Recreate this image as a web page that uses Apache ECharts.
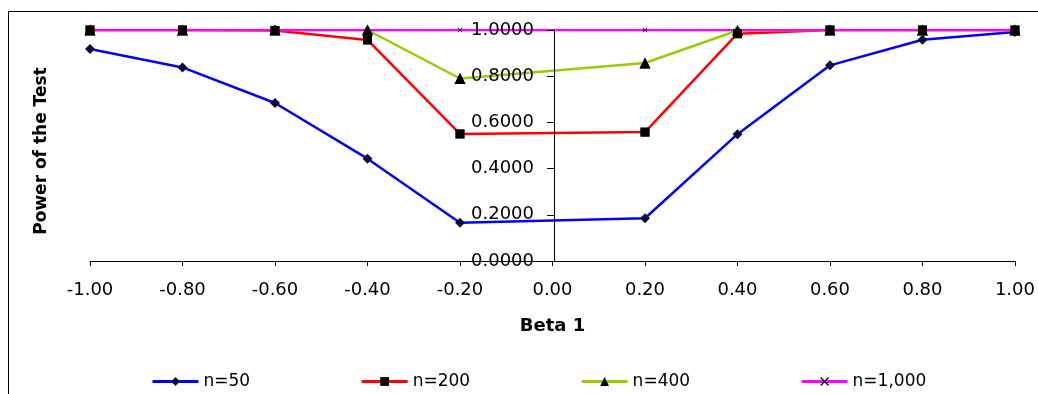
<!DOCTYPE html>
<html>
<head>
<meta charset="utf-8">
<script src="https://cdn.jsdelivr.net/npm/echarts@6/dist/echarts.min.js"></script>
<style>
html,body{margin:0;padding:0;background:#fff;}
#chart{width:1038px;height:394px;}
</style>
</head>
<body>
<div id="chart"></div>
<script>
// ---- data ----
var betaValues = [-1.0, -0.8, -0.6, -0.4, -0.2, 0.2, 0.4, 0.6, 0.8, 1.0];
var n50   = [0.918, 0.838, 0.684, 0.443, 0.166, 0.185, 0.549, 0.847, 0.958, 0.991];
var n200  = [1.000, 1.000, 0.998, 0.957, 0.550, 0.558, 0.984, 1.000, 1.000, 1.000];
var n400  = [1.000, 1.000, 1.000, 1.000, 0.790, 0.857, 0.998, 1.000, 1.000, 1.000];
var n1000 = [1.000, 1.000, 1.000, 1.000, 1.000, 1.000, 1.000, 1.000, 1.000, 1.000];
var seriesNames = ['n=50', 'n=200', 'n=400', 'n=1,000'];
var xTicks = {min: -1, max: 1, step: 0.2};
var yTicks = {min: 0, max: 1, step: 0.2};

function pairs(ys){ return betaValues.map(function(x,i){ return [x, ys[i]]; }); }

var FONT = 'DejaVu Sans';
var xSymbol = 'path://M0,1 L1,0 L5,4 L9,0 L10,1 L6,5 L10,9 L9,10 L5,6 L1,10 L0,9 L4,5 Z';

var GRID = {left: 90, right: 20, top: 30, bottom: 133};
var plotW = 1038 - GRID.left - GRID.right;
// the value axis crosses the horizontal axis at beta = 0
var zeroLeft = GRID.left + plotW * (0 - xTicks.min) / (xTicks.max - xTicks.min);

var chart = echarts.init(document.getElementById('chart'));
chart.setOption({
  animation: false,
  backgroundColor: '#ffffff',
  grid: [
    {left: GRID.left, right: GRID.right, top: GRID.top, bottom: GRID.bottom, containLabel: false},
    {left: zeroLeft, right: GRID.right, top: GRID.top, bottom: GRID.bottom, containLabel: false}
  ],
  graphic: [
    {type: 'rect', silent: true,
     shape: {x: 8.5, y: 11.5, width: 1100, height: 500},
     style: {fill: 'none', stroke: '#000', lineWidth: 1}},
    {type: 'text', silent: true, x: 42, y: 151, rotation: Math.PI/2,
     style: {text: 'Power of the Test', font: 'bold 17px "' + FONT + '"', fill: '#000',
             align: 'center', verticalAlign: 'middle'}}
  ],
  legend: {
    data: seriesNames,
    left: 151, top: 373, padding: 0,
    itemGap: 110, itemWidth: 46, itemHeight: 11,
    lineStyle: {width: 3},
    textStyle: {fontFamily: FONT, fontSize: 17, color: '#000'}
  },
  xAxis: [{
    gridIndex: 0,
    type: 'value', min: xTicks.min, max: xTicks.max, interval: xTicks.step,
    name: 'Beta 1', nameLocation: 'middle', nameGap: 56,
    nameTextStyle: {fontFamily: FONT, fontSize: 18, fontWeight: 'bold', color: '#000'},
    axisLine: {show: true, onZero: false, lineStyle: {color: '#000', width: 1}},
    axisTick: {show: true, inside: false, length: 5, lineStyle: {color: '#000'}},
    axisLabel: {fontFamily: FONT, fontSize: 18, color: '#000', margin: 20,
      formatter: function(v){ return v.toFixed(2); }},
    splitLine: {show: false}
  }, {
    gridIndex: 1, type: 'value', min: 0, max: xTicks.max, show: false
  }],
  yAxis: [{
    gridIndex: 0,
    type: 'value', min: yTicks.min, max: yTicks.max, interval: yTicks.step,
    show: false
  }, {
    gridIndex: 1,
    type: 'value', min: yTicks.min, max: yTicks.max, interval: yTicks.step,
    position: 'left', z: 5,
    axisLine: {show: true, onZero: false, lineStyle: {color: '#000', width: 1}},
    axisTick: {show: true, inside: false, length: 7, lineStyle: {color: '#000'}},
    axisLabel: {fontFamily: FONT, fontSize: 18, color: '#000', margin: 20,
      formatter: function(v){ return v.toFixed(4); }},
    splitLine: {show: false}
  }],
  series: [
    {name: seriesNames[0], type: 'line', data: pairs(n50), symbol: 'diamond', symbolSize: 10,
     lineStyle: {color: '#0000ff', width: 2.5}, itemStyle: {color: '#0c0c3c'}, z: 2},
    {name: seriesNames[1], type: 'line', data: pairs(n200), symbol: 'rect', symbolSize: 9,
     lineStyle: {color: '#ff0000', width: 2.5}, itemStyle: {color: '#000'}, z: 2},
    {name: seriesNames[2], type: 'line', data: pairs(n400), symbol: 'triangle', symbolSize: 11,
     lineStyle: {color: '#99cc00', width: 2.5}, itemStyle: {color: '#000'}, z: 2},
    {name: seriesNames[3], type: 'line', data: pairs(n1000), symbol: xSymbol, symbolSize: 5,
     lineStyle: {color: '#ff00ff', width: 2.5}, itemStyle: {color: '#000'}, z: 2},
    // marker overlays so markers sit above the n=1,000 line
    {name: 'm200', type: 'scatter', data: pairs(n200), symbol: 'rect', symbolSize: 9,
     itemStyle: {color: '#000'}, z: 3, silent: true},
    {name: 'm400', type: 'scatter', data: pairs(n400), symbol: 'triangle', symbolSize: 11,
     itemStyle: {color: '#000'}, z: 3, silent: true}
  ]
});
</script>
</body>
</html>
